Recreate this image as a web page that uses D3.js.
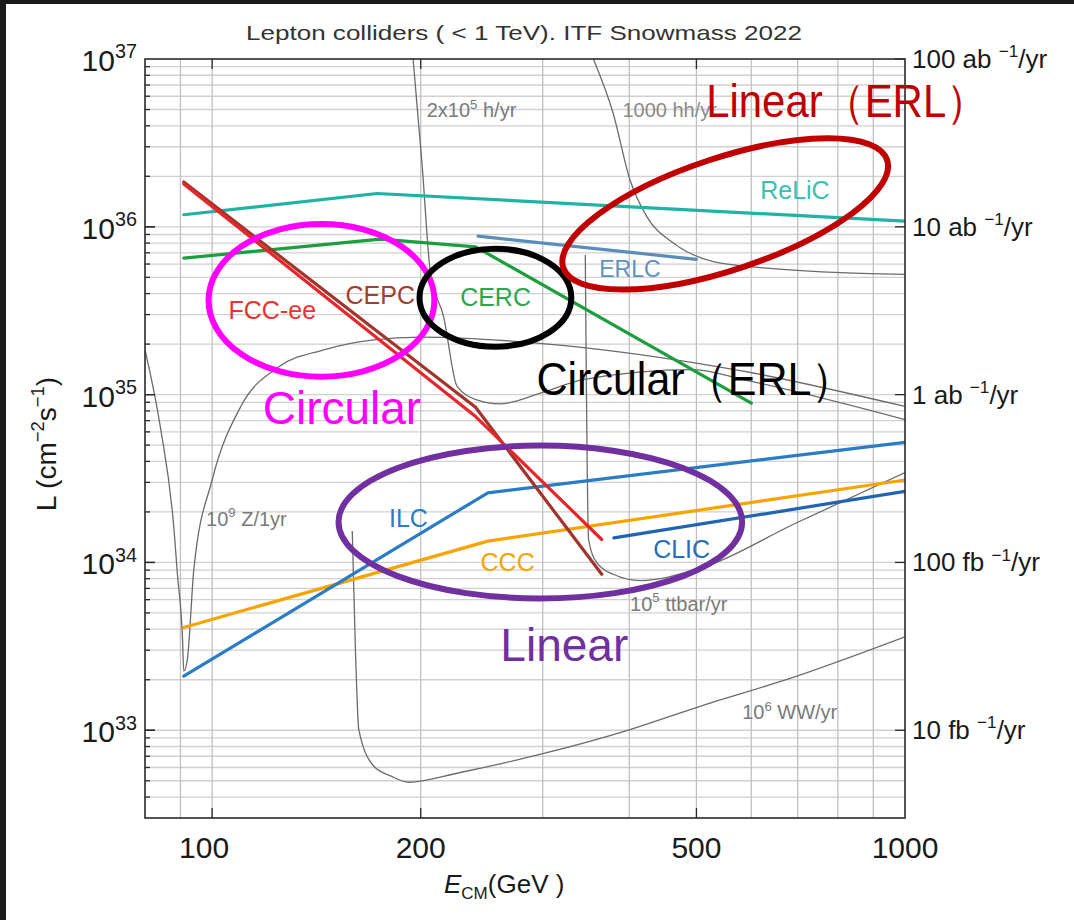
<!DOCTYPE html>
<html>
<head>
<meta charset="utf-8">
<script src="https://cdn.jsdelivr.net/npm/d3@7"></script>
<style>
body { margin: 0; background: #fff; }
svg text { font-family: "Liberation Sans", Arial, sans-serif; }
</style>
</head>
<body>
<div id="chart"></div>
<script>
// ---- data: [E_CM (GeV), L (cm^-2 s^-1)] ----
const fccEE = [[91, 1.8e36], [240, 7.4e34], [365, 1.37e34]];
const cepc  = [[91, 1.85e36], [240, 8.4e34], [365, 8.5e33]];
const cerc  = [[91, 6.5e35], [175, 8.45e35], [240, 7.6e35], [600, 8.9e34]];
const relic = [[91, 1.18e36], [173, 1.58e36], [1000, 1.08e36]];
const erlc  = [[242, 8.8e35], [500, 6.4e35]];
const ilc   = [[91, 2.1e33], [250, 2.6e34], [1000, 5.2e34]];
const ccc   = [[91, 4.1e33], [250, 1.34e34], [1000, 3.1e34]];
const clic  = [[380, 1.4e34], [1000, 2.65e34]];

// physics reference curves (grey)
const zCurve = [[80, 1.85e35], [84.3, 6.2e34], [88.1, 1.57e34], [89.1, 8.5e33], [90.6, 3.6e33], [91, 2.25e33],
  [92.1, 2.65e33], [94.1, 9.1e33], [100, 3.1e34], [110, 8.5e34], [125, 1.47e35], [145, 1.85e35],
  [171, 2.12e35], [200, 2.2e35], [294, 2.03e35], [584, 1.38e35], [1000, 8.5e34]];
const higgsCurve = [[195, 1e37], [201, 2.29e36], [206.6, 5.3e35], [215.8, 2.92e35], [225.7, 1.12e35],
  [241, 9.3e34], [260, 8.8e34], [300, 1.03e35], [343, 1.23e35], [495, 1.41e35], [584, 1.23e35], [1000, 7.1e34]];
const hhCurve = [[355, 1e37], [379, 4.77e36], [401, 1.9e36], [424, 1.15e36], [463, 8.0e35],
  [529, 6.2e35], [624, 5.7e35], [1000, 5.2e35]];
const ttCurve = [[345.6, 6.8e35], [349.4, 1.37e34], [359.3, 9.95e33], [379.3, 8.5e33], [414.8, 7.8e33],
  [501, 9.1e33], [699, 1.73e34], [1000, 3.43e34]];
const wwCurve = [[159.3, 1.54e34], [161, 3.0e33], [162.8, 1.01e33], [171.2, 6.1e32], [180.9, 5.35e32],
  [192.2, 4.9e32], [228, 5.6e32], [298, 7.2e32], [401, 1.01e33], [501, 1.37e33], [698, 2.1e33], [1000, 3.6e33]];

const colliders = [
  {name: "ReLiC", data: relic, color: "#1fb3a3"},
  {name: "CERC", data: cerc, color: "#1d9e3e"},
  {name: "ERLC", data: erlc, color: "#5b8dbb"},
  {name: "CCC", data: ccc, color: "#f6a400"},
  {name: "ILC", data: ilc, color: "#2a7dc4"},
  {name: "CLIC", data: clic, color: "#2165b2"},
  {name: "CEPC", data: cepc, color: "#a1352b"},
  {name: "FCC-ee", data: fccEE, color: "#e6262a"}
];
const refCurves = [zCurve, higgsCurve, hhCurve, ttCurve, wwCurve];

// labels: [parts, E, L, colour, size]
const curveLabels = [
  [[["2x10"], ["5", "sup"], [" h/yr"]], 204, 4.97e36, "#7a7a7a", 20],
  [[["1000 hh/yr"]], 391, 4.97e36, "#8a8a8a", 20],
  [[["10"], ["9", "sup"], [" Z/1yr"]], 98, 1.83e34, "#7a7a7a", 20],
  [[["10"], ["5", "sup"], [" ttbar/yr"]], 401, 5.7e33, "#7a7a7a", 20],
  [[["10"], ["6", "sup"], [" WW/yr"]], 582, 1.28e33, "#7a7a7a", 20],
  [[["ReLiC"]], 618, 1.66e36, "#3bbfb0", 25],
  [[["ERLC"]], 362, 5.6e35, "#5e92c2", 23],
  [[["FCC-ee"]], 105.6, 3.2e35, "#e8332e", 25],
  [[["CEPC"]], 155.8, 3.94e35, "#a23d30", 25],
  [[["CERC"]], 228, 3.83e35, "#2da64c", 25],
  [[["ILC"]], 180, 1.83e34, "#2a7dc4", 25],
  [[["CCC"]], 244, 1.01e34, "#f6a400", 25],
  [[["CLIC"]], 433, 1.21e34, "#2a6cb8", 25]
];

const xTickVals = [100, 200, 500, 1000];
const xGridVals = [90, 100, 200, 300, 400, 500, 600, 700, 800, 900];
const yDecades = [33, 34, 35, 36, 37];
const rightLabels = [["100 ab", "/yr"], ["10 ab", "/yr"], ["1 ab", "/yr"], ["100 fb", "/yr"], ["10 fb", "/yr"]];

// hand-drawn annotation ellipses: E range, L range
const ovals = [
  {color: "#ff00ff", e: [98.8, 209.3], l: [1.28e35, 1.04e36]},
  {color: "#000000", e: [199.2, 329.9], l: [1.93e35, 7.4e35]},
  {color: "#7030a0", e: [152.2, 582], l: [6.1e33, 4.97e34]}
];
const tiltedOval = {color: "#c00000", p0: [321.2, 5.7e35], p1: [942.3, 2.5e36], halfWidth: 56};
const notes = [
  ["Circular", 118.3, 6.7e34, "#ff00ff", null],
  ["Circular\uFF08ERL\uFF09", 293.8, 1e35, "#000000", 318],
  ["Linear\uFF08ERL\uFF09", 516.4, 4.52e36, "#c00000", 282],
  ["Linear", 260.6, 2.58e33, "#7030a0", null]
];

// ---- layout ----
const W = 1074, H = 920;
const plot = {left: 145, right: 905, top: 59, bottom: 818};

const svg = d3.select("#chart").append("svg").attr("width", W).attr("height", H);
svg.append("rect").attr("width", W).attr("height", H).attr("fill", "#fff");
svg.append("rect").attr("width", 6).attr("height", H).attr("fill", "#1b1b1b");
svg.append("rect").attr("width", W).attr("height", 4).attr("fill", "#1b1b1b");

const x = d3.scaleLog().domain([80, 1000]).range([plot.left, plot.right]);
const y = d3.scaleLog().domain([3e32, 1e37]).range([plot.bottom, plot.top]);

svg.append("defs").append("clipPath").attr("id", "clip")
  .append("rect").attr("x", plot.left).attr("y", plot.top)
  .attr("width", plot.right - plot.left).attr("height", plot.bottom - plot.top);

// grid
const yGridVals = y.ticks().filter(v => v > 3e32 && v < 1e37);
const grid = svg.append("g");
grid.selectAll(".hg").data(yGridVals).enter().append("line")
  .attr("x1", plot.left).attr("x2", plot.right)
  .attr("y1", d => y(d)).attr("y2", d => y(d))
  .attr("stroke", "#d2d0d0").attr("stroke-width", 1.3);
grid.selectAll(".vg").data(xGridVals).enter().append("line")
  .attr("y1", plot.top).attr("y2", plot.bottom)
  .attr("x1", d => x(d)).attr("x2", d => x(d))
  .attr("stroke", "#c4c0c0").attr("stroke-width", 1.3);

// curves
const line = d3.line().x(d => x(d[0])).y(d => y(d[1]));
const smooth = d3.line().x(d => x(d[0])).y(d => y(d[1])).curve(d3.curveMonotoneX);
const lines = svg.append("g").attr("clip-path", "url(#clip)");

lines.selectAll(".ref").data(refCurves).enter().append("path")
  .attr("d", smooth).attr("fill", "none")
  .attr("stroke", "#6d6a6a").attr("stroke-width", 1.3);

lines.selectAll(".col").data(colliders).enter().append("path")
  .attr("d", d => line(d.data)).attr("fill", "none")
  .attr("stroke", d => d.color).attr("stroke-width", 3.2)
  .attr("stroke-linecap", "round").attr("stroke-linejoin", "round");

// rich text helper (superscripts / subscripts)
function richText(g, px, py, parts, size) {
  const t = g.append("text").attr("x", px).attr("y", py).style("font-size", size + "px");
  let shift = 0;
  parts.forEach(p => {
    const kind = p[1];
    const want = kind === "sup" ? -size * 0.42 : kind === "sub" ? size * 0.25 : 0;
    t.append("tspan").text(p[0])
      .attr("dy", want - shift)
      .style("font-size", kind ? (size * 0.66) + "px" : null);
    shift = want;
  });
  return t;
}

const labels = svg.append("g");
curveLabels.forEach(d => {
  richText(labels, x(d[1]), y(d[2]) + d[4] * 0.36, d[0], d[4]).attr("fill", d[3]);
});

// frame and ticks
const axes = svg.append("g").attr("stroke", "#2a2a2a");
axes.append("rect").attr("x", plot.left).attr("y", plot.top)
  .attr("width", plot.right - plot.left).attr("height", plot.bottom - plot.top)
  .attr("fill", "none").attr("stroke-width", 1.6);
axes.selectAll(".ly").data(yGridVals.concat([1e33, 1e34, 1e35, 1e36])).enter().append("line")
  .attr("x1", plot.left)
  .attr("x2", d => plot.left + (Math.abs(Math.log10(d) % 1) < 1e-6 ? 10 : 5))
  .attr("y1", d => y(d)).attr("y2", d => y(d)).attr("stroke-width", 1.3);
axes.selectAll(".ry").data(yDecades).enter().append("line")
  .attr("x1", plot.right).attr("x2", plot.right - 10)
  .attr("y1", d => y(Math.pow(10, d))).attr("y2", d => y(Math.pow(10, d))).attr("stroke-width", 1.3);
axes.selectAll(".bx").data(xTickVals.slice(0, 3)).enter().append("line")
  .attr("x1", d => x(d)).attr("x2", d => x(d))
  .attr("y1", plot.bottom).attr("y2", plot.bottom - 10).attr("stroke-width", 1.3);
axes.selectAll(".tx").data(xTickVals.slice(0, 3)).enter().append("line")
  .attr("x1", d => x(d)).attr("x2", d => x(d))
  .attr("y1", plot.top).attr("y2", plot.top + 10).attr("stroke-width", 1.3);

// tick labels
const tl = svg.append("g").attr("fill", "#1a1a1a");
xTickVals.forEach(v => {
  tl.append("text").attr("x", x(v) - (v === 100 ? 8 : 0)).attr("y", plot.bottom + 40)
    .attr("text-anchor", "middle").style("font-size", "30px").text(v);
});
yDecades.forEach(e => {
  const t = richText(tl, plot.left - 8, y(Math.pow(10, e)) + 12, [["10"], [String(e), "sup"]], 30);
  t.attr("text-anchor", "end");
});
yDecades.slice().reverse().forEach((e, i) => {
  const r = rightLabels[i];
  richText(tl, plot.right + 7, y(Math.pow(10, e)) + 9, [[r[0] + " "], ["\u22121", "sup"], [r[1]]], 26);
});

// axis titles
richText(tl, 0, 0, [["L (cm"], ["\u22122", "sup"], ["s"], ["\u22121", "sup"], [")"]], 28)
  .attr("text-anchor", "middle").attr("transform", "translate(56,444) rotate(-90)");
const xt = tl.append("text").attr("x", 444).attr("y", 893).style("font-size", "26px");
xt.append("tspan").text("E").style("font-style", "italic");
xt.append("tspan").text("CM").attr("dy", 6).style("font-size", "17px");
xt.append("tspan").text("(GeV )").attr("dy", -6);

svg.append("text").attr("x", 246).attr("y", 40).attr("fill", "#333")
  .attr("textLength", 556).attr("lengthAdjust", "spacingAndGlyphs")
  .style("font-size", "21px").text("Lepton colliders ( < 1 TeV). ITF Snowmass 2022");

// annotations
const ann = svg.append("g").attr("fill", "none").attr("stroke-width", 6);
ann.selectAll("ellipse").data(ovals).enter().append("ellipse")
  .attr("cx", d => (x(d.e[0]) + x(d.e[1])) / 2)
  .attr("cy", d => (y(d.l[0]) + y(d.l[1])) / 2)
  .attr("rx", d => (x(d.e[1]) - x(d.e[0])) / 2)
  .attr("ry", d => (y(d.l[0]) - y(d.l[1])) / 2)
  .attr("stroke", d => d.color);
{
  const a = [x(tiltedOval.p0[0]), y(tiltedOval.p0[1])];
  const b = [x(tiltedOval.p1[0]), y(tiltedOval.p1[1])];
  const ang = Math.atan2(b[1] - a[1], b[0] - a[0]) * 180 / Math.PI;
  const len = Math.hypot(b[0] - a[0], b[1] - a[1]) / 2;
  ann.append("ellipse")
    .attr("transform", `translate(${(a[0] + b[0]) / 2},${(a[1] + b[1]) / 2}) rotate(${ang})`)
    .attr("rx", len).attr("ry", tiltedOval.halfWidth)
    .attr("stroke", tiltedOval.color);
}
notes.forEach(n => {
  const t = svg.append("text").attr("x", x(n[1])).attr("y", y(n[2]))
    .attr("fill", n[3]).style("font-size", "46px").text(n[0]);
  if (n[4]) t.attr("textLength", n[4]).attr("lengthAdjust", "spacingAndGlyphs");
});
</script>
</body>
</html>
